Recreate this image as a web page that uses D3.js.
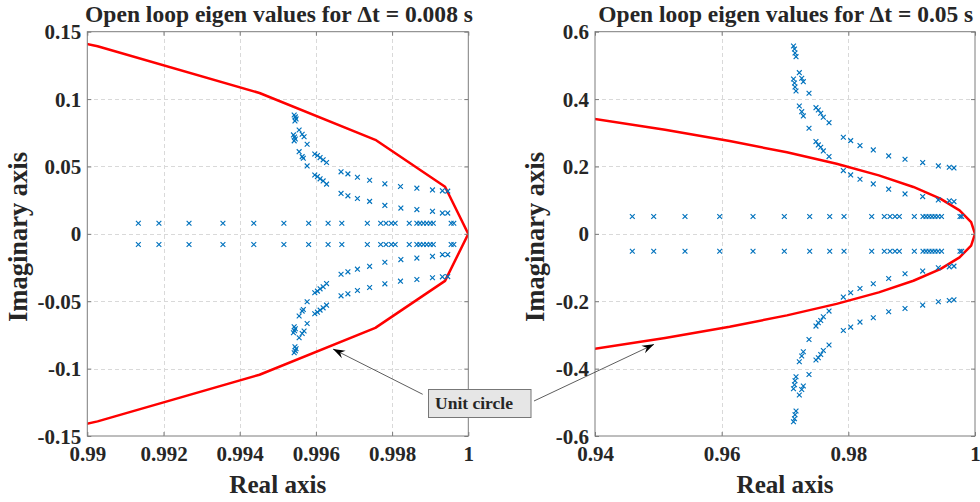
<!DOCTYPE html>
<html>
<head>
<meta charset="utf-8">
<script src="https://cdn.jsdelivr.net/npm/d3@7"></script>
<style>
  html, body { margin: 0; padding: 0; background: #fff; }
  svg { display: block; }
  text { font-family: "Liberation Serif", "DejaVu Serif", serif; font-weight: bold; fill: #262626; }
</style>
</head>
<body>
<svg id="fig" width="980" height="502"></svg>
<script>
// Open-loop eigenvalues (upper half-plane members; each one is plotted together with its conjugate)
const re008 = [
  0.99134, 0.99188, 0.99267, 0.99356, 0.99437, 0.99516, 0.99581, 0.99632, 0.99668, 0.99735,
  0.99770, 0.99784, 0.99798, 0.99808, 0.99845, 0.99865, 0.99873, 0.99882, 0.99891, 0.99900,
  0.99908, 0.99955, 0.99962,
  0.99543, 0.99546, 0.99548, 0.99545,
  0.99541, 0.99544, 0.99546, 0.99543,
  0.99556, 0.99564, 0.99569, 0.99577,
  0.99556, 0.99564, 0.99567, 0.99577,
  0.99597, 0.99604, 0.99611, 0.99619, 0.99628,
  0.99597, 0.99604, 0.99611, 0.99619, 0.99628,
  0.99666, 0.99684, 0.99709, 0.99741, 0.99781, 0.99822, 0.99865, 0.99906, 0.99932, 0.99946,
  0.99666, 0.99684, 0.99709, 0.99741, 0.99781, 0.99823, 0.99865, 0.99906, 0.99932, 0.99946
];
const im008 = [
  0.0079, 0.0079, 0.0079, 0.0079, 0.0079, 0.0079, 0.0079, 0.0079, 0.0079, 0.0079,
  0.0079, 0.0079, 0.0079, 0.0079, 0.0079, 0.0079, 0.0079, 0.0079, 0.0079, 0.0079,
  0.0079, 0.0079, 0.0079,
  0.0882, 0.0868, 0.0853, 0.0838,
  0.0734, 0.0719, 0.0704, 0.0690,
  0.0771, 0.0739, 0.0721, 0.0665,
  0.0610, 0.0573, 0.0561, 0.0504,
  0.0593, 0.0581, 0.0566, 0.0549, 0.0529,
  0.0437, 0.0425, 0.0408, 0.0393, 0.0369,
  0.0460, 0.0445, 0.0420, 0.0398, 0.0371, 0.0351, 0.0339, 0.0326, 0.0319, 0.0317,
  0.0300, 0.0282, 0.0262, 0.0241, 0.0211, 0.0191, 0.0180, 0.0167, 0.0154, 0.0154
];

const re05 = [
  0.94589, 0.94927, 0.95421, 0.95969, 0.96495, 0.96989, 0.97390, 0.97706, 0.97932, 0.98369,
  0.98568, 0.98658, 0.98737, 0.98805, 0.99042, 0.99179, 0.99226, 0.99274, 0.99321, 0.99368,
  0.99416, 0.99471, 0.99763, 0.99790,
  0.97134, 0.97150, 0.97158, 0.97174,
  0.97134, 0.97150, 0.97158, 0.97174,
  0.97226, 0.97264, 0.97289, 0.97379,
  0.97226, 0.97264, 0.97289, 0.97379,
  0.97489, 0.97526, 0.97564, 0.97605, 0.97695,
  0.97489, 0.97526, 0.97564, 0.97605, 0.97695,
  0.97921, 0.98037, 0.98184, 0.98394, 0.98637, 0.98895, 0.99174, 0.99421, 0.99594, 0.99668,
  0.97921, 0.98037, 0.98184, 0.98394, 0.98637, 0.98895, 0.99174, 0.99421, 0.99594, 0.99668
];
const im05 = [
  0.0515, 0.0515, 0.0515, 0.0515, 0.0515, 0.0515, 0.0515, 0.0515, 0.0515, 0.0515,
  0.0515, 0.0515, 0.0515, 0.0515, 0.0515, 0.0515, 0.0515, 0.0515, 0.0515, 0.0515,
  0.0515, 0.0515, 0.0515, 0.0515,
  0.5576, 0.5487, 0.5368, 0.5259,
  0.4597, 0.4479, 0.4360, 0.4241,
  0.4784, 0.4618, 0.4517, 0.4173,
  0.3796, 0.3627, 0.3500, 0.3135,
  0.3746, 0.3678, 0.3580, 0.3461, 0.3301,
  0.2738, 0.2640, 0.2572, 0.2462, 0.2293,
  0.2868, 0.2767, 0.2619, 0.2491, 0.2313, 0.2216, 0.2115, 0.2017, 0.1978, 0.1958,
  0.1877, 0.1750, 0.1622, 0.1483, 0.1326, 0.1186, 0.1106, 0.1008, 0.0979, 0.0958
];

// Unit circle, sampled every 2 degrees from -20 to 20 degrees
const circleRe = [
  0.93969, 0.95106, 0.96126, 0.97030, 0.97815, 0.98481, 0.99027, 0.99452, 0.99756, 0.99939, 1,
  0.99939, 0.99756, 0.99452, 0.99027, 0.98481, 0.97815, 0.97030, 0.96126, 0.95106, 0.93969
];
const circleIm = [
  -0.34202, -0.30902, -0.27564, -0.24192, -0.20791, -0.17365, -0.13917, -0.10453, -0.06976, -0.03490, 0,
  0.03490, 0.06976, 0.10453, 0.13917, 0.17365, 0.20791, 0.24192, 0.27564, 0.30902, 0.34202
];

// Axis limits and ticks
const xDomain008 = [0.99, 1];
const yDomain008 = [-0.15, 0.15];
const xTicks008 = [0.99, 0.992, 0.994, 0.996, 0.998, 1];
const xLabels008 = ["0.99", "0.992", "0.994", "0.996", "0.998", "1"];
const yTicks008 = [-0.15, -0.1, -0.05, 0, 0.05, 0.1, 0.15];
const yLabels008 = ["-0.15", "-0.1", "-0.05", "0", "0.05", "0.1", "0.15"];

const xDomain05 = [0.94, 1];
const yDomain05 = [-0.6, 0.6];
const xTicks05 = [0.94, 0.96, 0.98, 1];
const xLabels05 = ["0.94", "0.96", "0.98", "1"];
const yTicks05 = [-0.6, -0.4, -0.2, 0, 0.2, 0.4, 0.6];
const yLabels05 = ["-0.6", "-0.4", "-0.2", "0", "0.2", "0.4", "0.6"];

const titles = ["Open loop eigen values for \u0394t = 0.008 s", "Open loop eigen values for \u0394t = 0.05 s"];

// Arrow tips (data coordinates on each panel's unit circle)
const arrowTip008 = [0.99645, -0.0855];
const arrowTip05 = [0.94932, -0.328];

const svg = d3.select("#fig");
const TOP = 31.7, BOTTOM = 436;
const AXIS_COLOR = "#7c7c7c";
const GRID_COLOR = "#d9d9d9";
const MARK_COLOR = "#0072BD";
const TICK_FONT = 21;

function fitWidth(sel, width) {
  const len = sel.node().getComputedTextLength();
  const fs = parseFloat(sel.attr("font-size"));
  sel.attr("font-size", (fs * width / len).toFixed(2));
}

function panel(cfg, idx) {
  const x = d3.scaleLinear().domain(cfg.xDomain).range([cfg.x0, cfg.x1]);
  const y = d3.scaleLinear().domain(cfg.yDomain).range([BOTTOM, TOP]);
  const g = svg.append("g");
  const clipId = "clip" + idx;
  svg.append("clipPath").attr("id", clipId)
    .append("rect").attr("x", cfg.x0).attr("y", TOP)
    .attr("width", cfg.x1 - cfg.x0).attr("height", BOTTOM - TOP);

  // dashed grid
  const grid = g.append("g").attr("stroke", GRID_COLOR).attr("stroke-width", 1)
    .attr("stroke-dasharray", "4,3").attr("shape-rendering", "crispEdges");
  grid.selectAll("line.gx").data(cfg.xTicks.slice(1, -1)).join("line")
    .attr("x1", d => Math.round(x(d)) + 0.5).attr("x2", d => Math.round(x(d)) + 0.5)
    .attr("y1", TOP).attr("y2", BOTTOM);
  grid.selectAll("line.gy").data(cfg.yTicks.slice(1, -1)).join("line")
    .attr("y1", d => Math.round(y(d)) + 0.5).attr("y2", d => Math.round(y(d)) + 0.5)
    .attr("x1", cfg.x0).attr("x2", cfg.x1);

  // unit circle
  const pts = circleRe.map((r, i) => [r, circleIm[i]]);
  g.append("path").datum(pts)
    .attr("clip-path", `url(#${clipId})`)
    .attr("fill", "none").attr("stroke", "#ff0000").attr("stroke-width", 2.5)
    .attr("stroke-linejoin", "round")
    .attr("d", d3.line().x(d => x(d[0])).y(d => y(d[1])));

  // eigenvalues and their conjugates
  const eig = [];
  cfg.re.forEach((r, i) => { eig.push([r, cfg.im[i]]); eig.push([r, -cfg.im[i]]); });
  const s = 2.4;
  g.append("g").selectAll("path").data(eig).join("path")
    .attr("transform", d => `translate(${x(d[0])},${y(d[1])})`)
    .attr("d", `M${-s},${-s}L${s},${s}M${-s},${s}L${s},${-s}`)
    .attr("stroke", MARK_COLOR).attr("stroke-width", 1.15).attr("fill", "none");

  // axes with inward ticks
  const tick = 4;
  const fmtX = (d, i) => cfg.xLabels[i];
  const fmtY = (d, i) => cfg.yLabels[i];
  const axB = g.append("g").attr("transform", `translate(0,${BOTTOM})`)
    .call(d3.axisBottom(x).tickValues(cfg.xTicks).tickFormat(fmtX).tickSizeInner(-tick).tickSizeOuter(0).tickPadding(10));
  const axL = g.append("g").attr("transform", `translate(${cfg.x0},0)`)
    .call(d3.axisLeft(y).tickValues(cfg.yTicks).tickFormat(fmtY).tickSizeInner(-tick).tickSizeOuter(0).tickPadding(6));
  const axT = g.append("g").attr("transform", `translate(0,${TOP})`)
    .call(d3.axisTop(x).tickValues(cfg.xTicks).tickFormat("").tickSizeInner(-tick).tickSizeOuter(0));
  const axR = g.append("g").attr("transform", `translate(${cfg.x1},0)`)
    .call(d3.axisRight(y).tickValues(cfg.yTicks).tickFormat("").tickSizeInner(-tick).tickSizeOuter(0));
  [axB, axL, axT, axR].forEach(a => {
    a.select(".domain").remove();
    a.selectAll(".tick line").attr("stroke", AXIS_COLOR);
    a.selectAll(".tick text").attr("fill", "#262626")
      .attr("font-family", "Liberation Serif").attr("font-weight", "bold").attr("font-size", TICK_FONT);
  });
  axB.selectAll(".tick text").attr("dy", "0.71em");
  axL.selectAll(".tick text").attr("dy", "0.34em");

  g.append("rect").attr("x", cfg.x0).attr("y", TOP)
    .attr("width", cfg.x1 - cfg.x0).attr("height", BOTTOM - TOP)
    .attr("fill", "none").attr("stroke", AXIS_COLOR).attr("stroke-width", 1);

  // title and axis labels
  const cx = (cfg.x0 + cfg.x1) / 2;
  const t = g.append("text").text(cfg.title).attr("x", cfg.titleX).attr("y", 21.5)
    .attr("text-anchor", "middle").attr("font-size", 20);
  fitWidth(t, cfg.titleW);
  const xl = g.append("text").text("Real axis").attr("x", cx).attr("y", 493)
    .attr("text-anchor", "middle").attr("font-size", 24);
  fitWidth(xl, 97);
  const yl = g.append("text").text("Imaginary axis")
    .attr("transform", `translate(${cfg.ylabelX},237) rotate(-90)`)
    .attr("text-anchor", "middle").attr("font-size", 25);
  fitWidth(yl, 170);

  return { x, y };
}

const p1 = panel({
  x0: 87.3, x1: 468.3, xDomain: xDomain008, yDomain: yDomain008,
  xTicks: xTicks008, xLabels: xLabels008, yTicks: yTicks008, yLabels: yLabels008,
  re: re008, im: im008, title: titles[0], titleX: 279, titleW: 388, ylabelX: 27
}, 0);
const p2 = panel({
  x0: 595, x1: 975, xDomain: xDomain05, yDomain: yDomain05,
  xTicks: xTicks05, xLabels: xLabels05, yTicks: yTicks05, yLabels: yLabels05,
  re: re05, im: im05, title: titles[1], titleX: 785.8, titleW: 375, ylabelX: 544
}, 1);

// "Unit circle" text-arrow annotation
const defs = svg.append("defs");
defs.append("marker").attr("id", "head").attr("viewBox", "-12 -5 13 10")
  .attr("markerWidth", 13).attr("markerHeight", 10).attr("refX", 0).attr("refY", 0)
  .attr("markerUnits", "userSpaceOnUse").attr("orient", "auto")
  .append("path").attr("d", "M0,0L-12,-4.2L-8,0L-12,4.2Z").attr("fill", "#000");

const ann = svg.append("g");
ann.append("line")
  .attr("x1", 422.7).attr("y1", 394.3)
  .attr("x2", p1.x(arrowTip008[0])).attr("y2", p1.y(arrowTip008[1]))
  .attr("stroke", "#333").attr("stroke-width", 0.8).attr("marker-end", "url(#head)");
ann.append("line")
  .attr("x1", 534).attr("y1", 401)
  .attr("x2", p2.x(arrowTip05[0])).attr("y2", p2.y(arrowTip05[1]))
  .attr("stroke", "#333").attr("stroke-width", 0.8).attr("marker-end", "url(#head)");
ann.append("rect").attr("x", 428.5).attr("y", 389.5).attr("width", 102.5).attr("height", 28)
  .attr("fill", "#e6e6e6").attr("stroke", "#777").attr("stroke-width", 1);
const lbl = ann.append("text").text("Unit circle").attr("x", 435).attr("y", 409)
  .attr("font-size", 17).attr("fill", "#111");
fitWidth(lbl, 78);
</script>
</body>
</html>
